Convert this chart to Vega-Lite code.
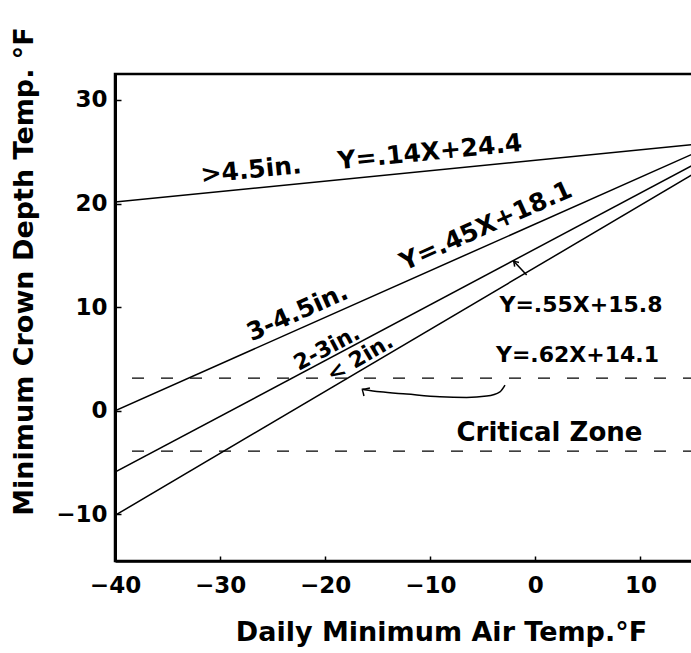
{
  "$schema": "https://vega.github.io/schema/vega-lite/v6.json",
  "width": 580,
  "height": 487,
  "autosize": {"type": "none"},
  "padding": {"left": 115, "top": 74, "right": 0, "bottom": 92},
  "background": "white",
  "config": {
    "view": {"stroke": "black", "strokeWidth": 2.5},
    "font": "DejaVu Sans",
    "text": {"font": "DejaVu Sans", "fontWeight": "bold", "color": "black"}
  },
  "datasets": {
    "lines": [
      {"series": ">4.5in.", "x": -40, "y": 20.14},
      {"series": ">4.5in.", "x": 15, "y": 25.7},
      {"series": "3-4.5in.", "x": -40, "y": 0.0},
      {"series": "3-4.5in.", "x": 15, "y": 24.79},
      {"series": "2-3in.", "x": -40, "y": -5.93},
      {"series": "2-3in.", "x": 15, "y": 23.71},
      {"series": "<2in.", "x": -40, "y": -10.1},
      {"series": "<2in.", "x": 15, "y": 22.82}
    ],
    "arrows": [
      {"part": "a1", "o": 1, "x": -0.83, "y": 13.1},
      {"part": "a1", "o": 2, "x": -2.1, "y": 14.48},
      {"part": "a1h", "o": 1, "x": -1.97, "y": 13.92},
      {"part": "a1h", "o": 2, "x": -2.1, "y": 14.48},
      {"part": "a1h", "o": 3, "x": -1.56, "y": 14.31},
      {"part": "a2", "o": 1, "x": -2.89, "y": 2.48},
      {"part": "a2", "o": 2, "x": -3.37, "y": 1.83},
      {"part": "a2", "o": 3, "x": -4.63, "y": 1.42},
      {"part": "a2", "o": 4, "x": -6.54, "y": 1.29},
      {"part": "a2", "o": 5, "x": -9.08, "y": 1.35},
      {"part": "a2", "o": 6, "x": -12.25, "y": 1.61},
      {"part": "a2", "o": 7, "x": -14.79, "y": 1.83},
      {"part": "a2", "o": 8, "x": -16.4, "y": 2.05},
      {"part": "a2h", "o": 1, "x": -15.74, "y": 2.19},
      {"part": "a2h", "o": 2, "x": -16.53, "y": 2.07},
      {"part": "a2h", "o": 3, "x": -16.31, "y": 1.42}
    ]
  },
  "layer": [
    {
      "data": {"values": [{"zone": "upper", "y": 3.15}, {"zone": "lower", "y": -3.9}]},
      "mark": {"type": "rule", "color": "black", "strokeWidth": 1.3, "strokeDash": [12, 17]},
      "encoding": {"y": {"field": "y", "type": "quantitative"}}
    },
    {
      "data": {"name": "lines"},
      "mark": {"type": "line", "color": "black", "strokeWidth": 1.5, "clip": true},
      "encoding": {
        "x": {
          "field": "x", "type": "quantitative",
          "scale": {"domain": [-40, 15.19], "nice": false, "zero": false},
          "axis": {
            "values": [-40, -30, -20, -10, 0, 10],
            "grid": false,
            "domainColor": "black", "domainWidth": 2.5,
            "tickColor": "black", "tickWidth": 1.5, "tickSize": -5,
            "labelFont": "DejaVu Sans", "labelFontWeight": "bold", "labelFontSize": 23, "labelColor": "black",
            "labelPadding": 18, "labelFlush": false,
            "title": "Daily Minimum Air Temp.°F",
            "titleFont": "DejaVu Sans", "titleFontWeight": "bold", "titleFontSize": 27, "titleColor": "black",
            "titleX": 326, "titleY": 79, "titleAlign": "center", "titleBaseline": "alphabetic"
          }
        },
        "y": {
          "field": "y", "type": "quantitative",
          "scale": {"domain": [-14.5, 32.5], "nice": false, "zero": false},
          "axis": {
            "values": [-10, 0, 10, 20, 30],
            "grid": false,
            "domainColor": "black", "domainWidth": 3,
            "tickColor": "black", "tickWidth": 1.5, "tickSize": -6,
            "labelFont": "DejaVu Sans", "labelFontWeight": "bold", "labelFontSize": 23, "labelColor": "black",
            "labelPadding": 14, "labelFlush": false,
            "title": "Minimum Crown Depth Temp. °F",
            "titleFont": "DejaVu Sans", "titleFontWeight": "bold", "titleFontSize": 27, "titleColor": "black",
            "titleAngle": 270, "titleX": -83, "titleY": 197, "titleAlign": "center", "titleBaseline": "alphabetic"
          }
        },
        "detail": {"field": "series", "type": "nominal"}
      }
    },
    {
      "data": {"name": "arrows"},
      "mark": {"type": "line", "color": "black", "strokeWidth": 1.5, "interpolate": "monotone"},
      "encoding": {
        "x": {"field": "x", "type": "quantitative"},
        "y": {"field": "y", "type": "quantitative"},
        "detail": {"field": "part", "type": "nominal"},
        "order": {"field": "o", "type": "quantitative"}
      }
    },
    {
      "data": {"values": [{"label": ">4.5in.", "x": -27.06, "y": 23.23}, {"label": "Y=.14X+24.4", "x": -10.03, "y": 24.97}]},
      "mark": {"type": "text", "angle": 354.3, "fontSize": 25, "baseline": "middle", "align": "center"},
      "encoding": {"x": {"field": "x", "type": "quantitative"}, "y": {"field": "y", "type": "quantitative"}, "text": {"field": "label"}}
    },
    {
      "data": {"values": [{"label": "3-4.5in.", "x": -22.64, "y": 9.5}, {"label": "Y=.45X+18.1", "x": -4.7, "y": 17.83}]},
      "mark": {"type": "text", "angle": 336, "fontSize": 25, "baseline": "middle", "align": "center"},
      "encoding": {"x": {"field": "x", "type": "quantitative"}, "y": {"field": "y", "type": "quantitative"}, "text": {"field": "label"}}
    },
    {
      "data": {"values": [{"label": "2-3in.", "x": -19.83, "y": 6.05}]},
      "mark": {"type": "text", "angle": 332, "fontSize": 22, "baseline": "middle", "align": "center"},
      "encoding": {"x": {"field": "x", "type": "quantitative"}, "y": {"field": "y", "type": "quantitative"}, "text": {"field": "label"}}
    },
    {
      "data": {"values": [{"label": "< 2in.", "x": -16.69, "y": 5.09}]},
      "mark": {"type": "text", "angle": 329.4, "fontSize": 22, "baseline": "middle", "align": "center"},
      "encoding": {"x": {"field": "x", "type": "quantitative"}, "y": {"field": "y", "type": "quantitative"}, "text": {"field": "label"}}
    },
    {
      "data": {"values": [{"label": "Y=.55X+15.8", "x": 4.34, "y": 10.2}, {"label": "Y=.62X+14.1", "x": 4.01, "y": 5.38}]},
      "mark": {"type": "text", "fontSize": 22, "baseline": "middle", "align": "center"},
      "encoding": {"x": {"field": "x", "type": "quantitative"}, "y": {"field": "y", "type": "quantitative"}, "text": {"field": "label"}}
    },
    {
      "data": {"values": [{"label": "Critical Zone", "x": 1.34, "y": -2.15}]},
      "mark": {"type": "text", "fontSize": 26, "baseline": "middle", "align": "center"},
      "encoding": {"x": {"field": "x", "type": "quantitative"}, "y": {"field": "y", "type": "quantitative"}, "text": {"field": "label"}}
    }
  ]
}
